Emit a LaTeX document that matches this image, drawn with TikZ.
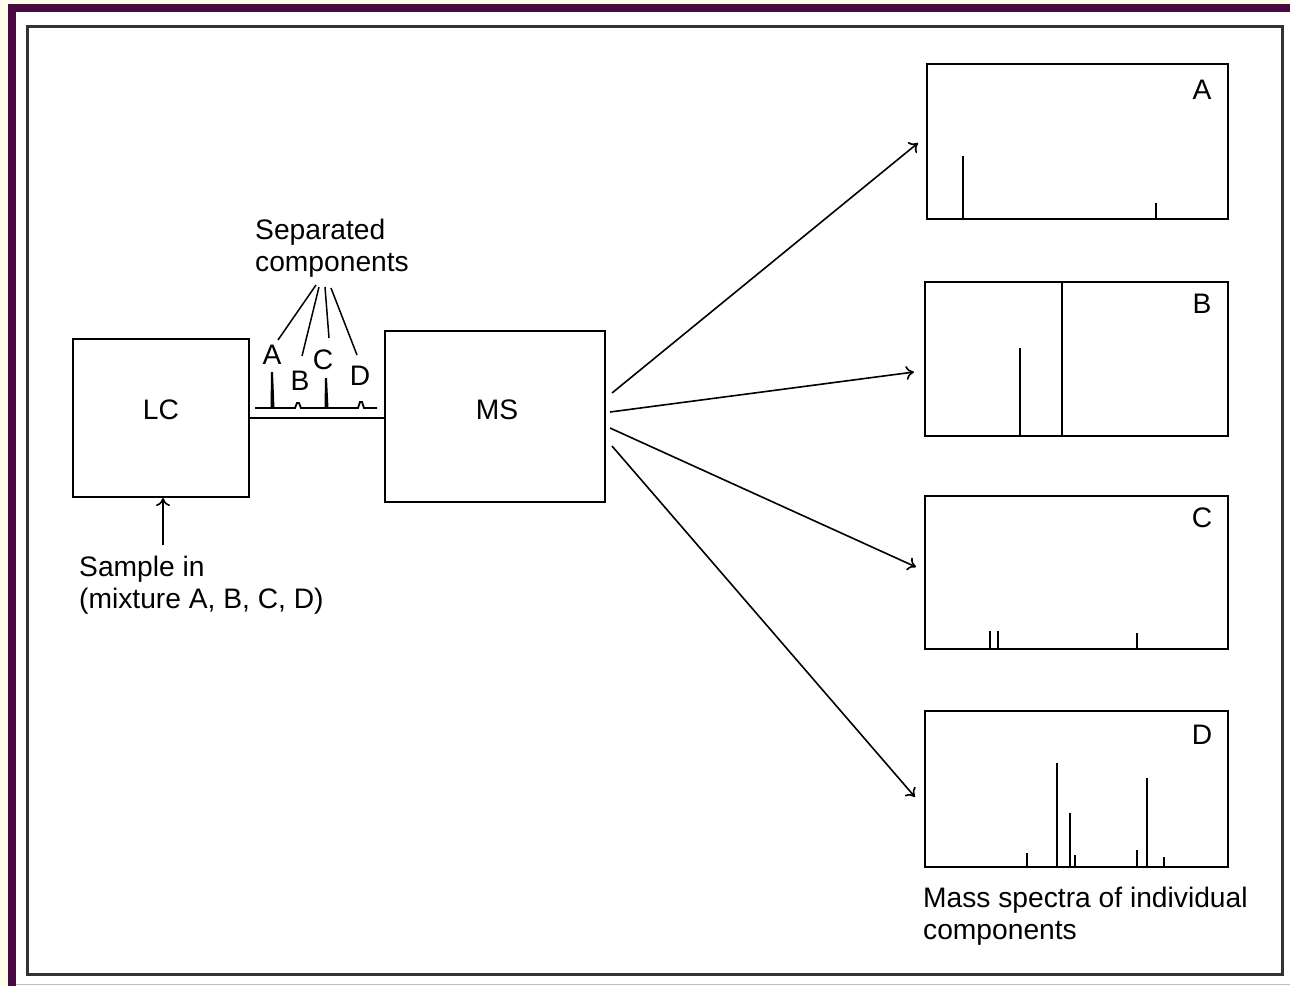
\documentclass[tikz,border=0pt]{standalone}
\usepackage{fontspec}
\setmainfont{Liberation Sans}
\usetikzlibrary{arrows.meta}
\definecolor{plum}{RGB}{72,10,64}
\definecolor{cream}{RGB}{255,253,232}
\tikzset{
  every node/.style={font=\fontsize{28.2}{32}\selectfont, inner sep=0pt},
  unit/.style={draw=black, line width=2pt},
  spec/.style={draw=black, line width=2.2pt, anchor=north west},
  peak/.style={line width=2.6pt},
  flow/.style={line width=1.6pt, -{To[length=8pt,width=14pt,line width=1.6pt]}},
  pointer/.style={line width=1.5pt},
  tag/.style={anchor=center},
}
\begin{document}
\begin{tikzpicture}[x=1pt,y=-1pt]
\useasboundingbox (0,0) rectangle (1290,986);
% page background and frame
\fill[cream] (0,0) rectangle (1290,986);
\fill[white] (16,12) rectangle (1290,984);
\fill[plum] (8,4) rectangle (1290,12);
\fill[plum] (8,4) rectangle (16,986);
\draw[black!25, line width=1pt] (16,984.5) -- (1290,984.5);
\draw[black!80, line width=3pt] (27,26) rectangle (1282,974);

% instruments
\node[unit, minimum width=176pt, minimum height=158pt] (lc) at (161,418) {};
\node at (161,410) (lclabel) {LC};
\node[unit, minimum width=220pt, minimum height=171pt] (ms) at (495,416.5) {};
\node at (497,410) (mslabel) {MS};
\draw[line width=2pt] (lc.east |- 0,418) -- (ms.west |- 0,418);

% sample inlet
\node[anchor=north west, align=left] (sample) at (79,556) {Sample in\\(mixture A, B, C, D)};
\coordinate (inlet) at (163,545);
\draw[flow] (inlet) -- (lc.south -| inlet);

% chromatogram trace between LC and MS
\coordinate (base0) at (255,408);
\coordinate (base1) at (377,408);
\draw[line width=1.8pt] (base0) -- (295,408) -- (297,403) -- (299,403) -- (301,408)
  -- (358,408) -- (360,402) -- (362,402) -- (364,408) -- (base1);
\fill (270.5,408) -- (271,372) -- (273,372) -- (274.5,408) -- cycle;
\fill (324.5,408) -- (325,378) -- (327,378) -- (328.5,408) -- cycle;
\node[tag] (pa) at (272,355) {A};
\node[tag] (pb) at (300,381) {B};
\node[tag] (pc) at (323,360) {C};
\node[tag] (pd) at (360,376) {D};
\node[anchor=north west, align=left] (sep) at (255,219) {Separated\\components};
\coordinate (ra) at (316,285);
\coordinate (rb) at (319,287);
\coordinate (rc) at (325,287);
\coordinate (rd) at (331,288);
\coordinate (ea) at (278,340);
\coordinate (eb) at (302,356);
\coordinate (ec) at (329,338);
\coordinate (ed) at (357,355);
\draw[pointer] (ra) -- (ea);
\draw[pointer] (rb) -- (eb);
\draw[pointer] (rc) -- (ec);
\draw[pointer] (rd) -- (ed);

% mass spectra panels
\node[spec, minimum width=301pt, minimum height=155pt] (sa) at (926,63) {};
\node[spec, minimum width=303pt, minimum height=154pt] (sb) at (924,281) {};
\node[spec, minimum width=303pt, minimum height=153pt] (sc) at (924,495) {};
\node[spec, minimum width=303pt, minimum height=156pt] (sd) at (924,710) {};
\node[tag] (la) at (1202,90) {A};
\node[tag] (lb) at (1202,304) {B};
\node[tag] (lcc) at (1202,518) {C};
\node[tag] (ld) at (1202,735) {D};

% spectrum A
\draw[peak] (963,218) -- (963,156);
\draw[peak] (1156,218) -- (1156,203);
% spectrum B
\draw[peak] (1020,435) -- (1020,348);
\draw[peak] (1062,435) -- (1062,281);
% spectrum C
\draw[peak] (990,648) -- (990,631);
\draw[peak] (998,648) -- (998,631);
\draw[peak] (1137,648) -- (1137,633);
% spectrum D
\draw[peak] (1027,866) -- (1027,853);
\draw[peak] (1057,866) -- (1057,763);
\draw[peak] (1070,866) -- (1070,813);
\draw[peak] (1075,866) -- (1075,855);
\draw[peak] (1137,866) -- (1137,850);
\draw[peak] (1147,866) -- (1147,778);
\draw[peak] (1164,866) -- (1164,857);

\node[anchor=north west, align=left] (caption) at (923,887) {Mass spectra of individual\\components};

% flows from MS to each spectrum
\coordinate (oa) at (612,393);
\coordinate (ob) at (610,412);
\coordinate (oc) at (610,428);
\coordinate (od) at (612,446);
\coordinate (ta) at (918,143);
\coordinate (tb) at (914,372);
\coordinate (tc) at (916,567);
\coordinate (td) at (915,797);
\draw[flow] (oa) -- (ta);
\draw[flow] (ob) -- (tb);
\draw[flow] (oc) -- (tc);
\draw[flow] (od) -- (td);
\end{tikzpicture}
\end{document}
